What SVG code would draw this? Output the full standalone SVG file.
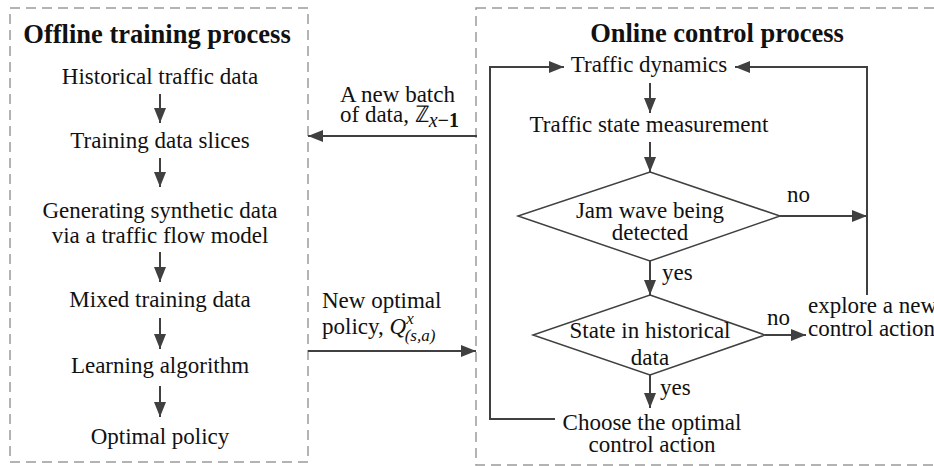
<svg xmlns="http://www.w3.org/2000/svg" width="934" height="466" viewBox="0 0 934 466" font-family="Liberation Serif, Times New Roman, serif">
  <style>
    text { fill: #111; }
    .title { font-size: 26.5px; font-weight: bold; text-anchor: middle; }
    .lbl { font-size: 23px; text-anchor: middle; }
    .lbl-l { font-size: 23px; }
    .math { font-style: italic; }
    .frame { fill: none; stroke: #9a9a9a; stroke-width: 1.5; stroke-dasharray: 10 6; }
    .edge { fill: none; stroke: #404040; stroke-width: 2; }
    .shape { fill: #fff; stroke: #404040; stroke-width: 1.5; }
  </style>
  <defs>
    <marker id="ah" viewBox="0 0 15 12" refX="15" refY="6" markerWidth="15" markerHeight="12" markerUnits="userSpaceOnUse" orient="auto">
      <path d="M0,0 L15,6 L0,12 Z" fill="#404040"/>
    </marker>
  </defs>

  <rect width="934" height="466" fill="#fff"/>

  <!-- process frames -->
  <g id="offline-frame">
    <rect class="frame" x="10" y="8" width="298" height="454"/>
    <text class="title" x="157" y="43">Offline training process</text>
  </g>
  <g id="online-frame">
    <rect class="frame" x="476" y="8" width="480" height="457"/>
    <text class="title" x="717" y="42">Online control process</text>
  </g>

  <!-- offline steps -->
  <g id="historical"><text class="lbl" x="160" y="84">Historical traffic data</text></g>
  <g id="slices"><text class="lbl" x="160" y="148">Training data slices</text></g>
  <g id="synthetic">
    <text class="lbl" x="160" y="218">Generating synthetic data</text>
    <text class="lbl" x="160" y="243">via a traffic flow model</text>
  </g>
  <g id="mixed"><text class="lbl" x="160" y="307">Mixed training data</text></g>
  <g id="learning"><text class="lbl" x="160" y="373">Learning algorithm</text></g>
  <g id="policy"><text class="lbl" x="160" y="444">Optimal policy</text></g>

  <!-- online steps -->
  <g id="dynamics"><text class="lbl" x="649" y="72">Traffic dynamics</text></g>
  <g id="measurement"><text class="lbl" x="649" y="132">Traffic state measurement</text></g>
  <g id="jam-check">
    <polygon class="shape" points="650,172 780,216 650,261 518,216"/>
    <text class="lbl" x="650" y="218">Jam wave being</text>
    <text class="lbl" x="650" y="240">detected</text>
  </g>
  <g id="state-check">
    <polygon class="shape" points="650,295 765,335 650,375 533,335"/>
    <text class="lbl" x="650" y="338">State in historical</text>
    <text class="lbl" x="650" y="365">data</text>
  </g>
  <g id="explore">
    <text class="lbl-l" x="808" y="313">explore a new</text>
    <text class="lbl-l" x="808" y="336">control action</text>
  </g>
  <g id="choose">
    <text class="lbl" x="652" y="430">Choose the optimal</text>
    <text class="lbl" x="652" y="452">control action</text>
  </g>

  <!-- connectors -->
  <g id="connectors">
    <line class="edge" x1="160" y1="94" x2="160" y2="123" marker-end="url(#ah)"/>
    <line class="edge" x1="160" y1="158" x2="160" y2="187" marker-end="url(#ah)"/>
    <line class="edge" x1="160" y1="252" x2="160" y2="282" marker-end="url(#ah)"/>
    <line class="edge" x1="160" y1="318" x2="160" y2="349" marker-end="url(#ah)"/>
    <line class="edge" x1="160" y1="386" x2="160" y2="417" marker-end="url(#ah)"/>

    <line class="edge" x1="650" y1="83" x2="650" y2="113" marker-end="url(#ah)"/>
    <line class="edge" x1="650" y1="142" x2="650" y2="172" marker-end="url(#ah)"/>
    <line class="edge" x1="780" y1="216" x2="867" y2="216" marker-end="url(#ah)"/>
    <line class="edge" x1="650" y1="261" x2="650" y2="295" marker-end="url(#ah)"/>
    <line class="edge" x1="765" y1="335" x2="806" y2="335" marker-end="url(#ah)"/>
    <line class="edge" x1="650" y1="375" x2="650" y2="408" marker-end="url(#ah)"/>
    <path class="edge" d="M555,419 H490 V67 H564" marker-end="url(#ah)"/>
    <path class="edge" d="M867,295 V67 H735" marker-end="url(#ah)"/>

    <line class="edge" x1="477" y1="136" x2="308" y2="136" marker-end="url(#ah)"/>
    <line class="edge" x1="308" y1="351" x2="476" y2="351" marker-end="url(#ah)"/>

    <text class="lbl-l" x="787" y="202">no</text>
    <text class="lbl-l" x="662" y="280">yes</text>
    <text class="lbl-l" x="767" y="325">no</text>
    <text class="lbl-l" x="660" y="395">yes</text>

    <text class="lbl-l" x="340" y="102">A new batch</text>
    <text class="lbl-l" x="340" y="122">of data, ℤ<tspan class="math" font-size="20" dy="5">x</tspan><tspan font-size="20" font-weight="bold">−1</tspan></text>

    <text class="lbl-l" x="322" y="308">New optimal</text>
    <text class="lbl-l" x="322" y="334">policy, <tspan class="math">Q</tspan><tspan class="math" font-size="17" dy="-10">x</tspan><tspan class="math" font-size="17" dx="-9" dy="17">(s,a)</tspan></text>
  </g>
</svg>
